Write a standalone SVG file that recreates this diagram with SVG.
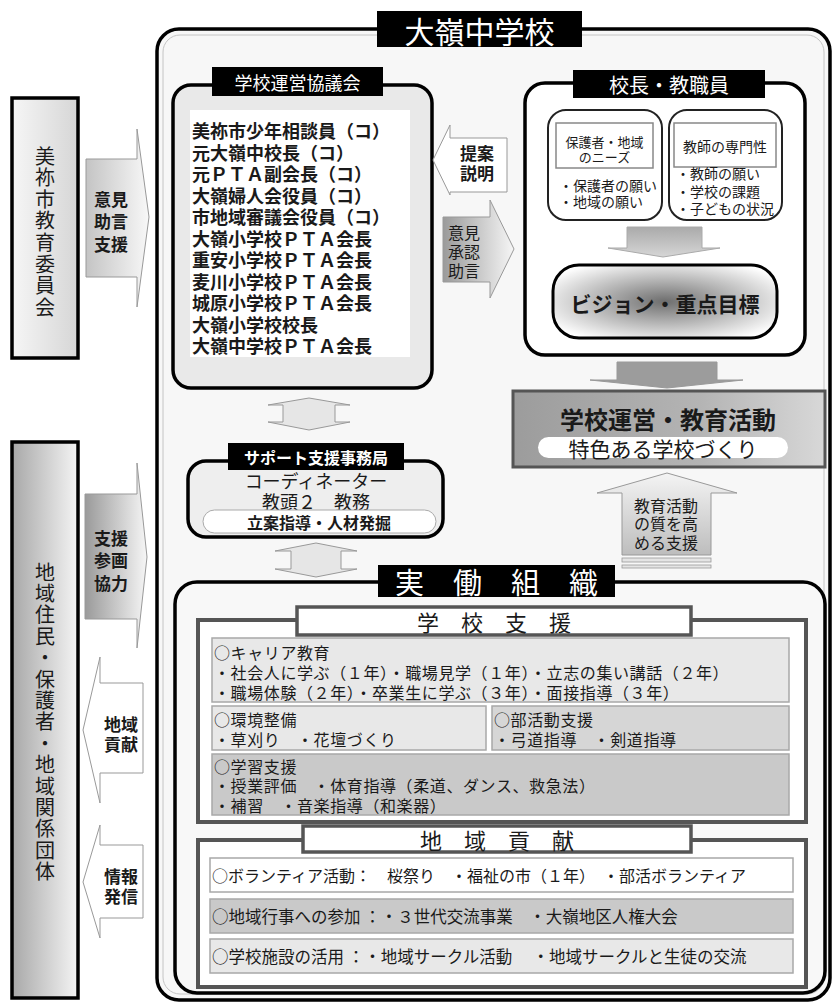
<svg xmlns="http://www.w3.org/2000/svg" width="835" height="1005" viewBox="0 0 835 1005">
<defs>
<style>
.t{font-family:"Noto Sans CJK JP","Noto Sans CJK SC",sans-serif;dominant-baseline:central;fill:#1a1a1a}
.v{font-family:"Noto Sans CJK JP","Noto Sans CJK SC",sans-serif;writing-mode:vertical-rl;fill:#1a1a1a}
.c{text-anchor:middle}
.w{fill:#fff}
.b{font-weight:bold}
.s{font-size:16px;letter-spacing:0.6px}
.frame{stroke:#000;stroke-width:3.5}
.sec{fill:#fff;stroke:#555;stroke-width:4}
.row{stroke:#a8a8a8;stroke-width:1.5}
.ol{fill:#fff;stroke:#999;stroke-width:1}
</style>
<linearGradient id="gBoard" x1="0" y1="0" x2="1" y2="0"><stop offset="0" stop-color="#f6f6f6"/><stop offset="1" stop-color="#d6d6d6"/></linearGradient>
<linearGradient id="gRes" x1="0" y1="0" x2="1" y2="0"><stop offset="0" stop-color="#a8a8a8"/><stop offset="1" stop-color="#f4f4f4"/></linearGradient>
<linearGradient id="gArrR" x1="0" y1="0" x2="1" y2="0"><stop offset="0" stop-color="#9a9a9a"/><stop offset="1" stop-color="#f6f6f6"/></linearGradient>
<linearGradient id="gArrR2" x1="0" y1="0" x2="1" y2="0"><stop offset="0" stop-color="#c4c4c4"/><stop offset="1" stop-color="#f8f8f8"/></linearGradient>
<linearGradient id="gMain" x1="0" y1="0" x2="1" y2="0"><stop offset="0" stop-color="#9c9c9c"/><stop offset="0.6" stop-color="#b4b4b4"/><stop offset="1" stop-color="#d8d8d8"/></linearGradient>
<linearGradient id="gDown" x1="0" y1="0" x2="0" y2="1"><stop offset="0" stop-color="#aaa"/><stop offset="1" stop-color="#d6d6d6"/></linearGradient>
<linearGradient id="gUp" x1="0" y1="0" x2="0" y2="1"><stop offset="0" stop-color="#f4f4f4"/><stop offset="1" stop-color="#bdbdbd"/></linearGradient>
<radialGradient id="gVis" cx="0.5" cy="0.5" r="0.6"><stop offset="0" stop-color="#6e6e6e"/><stop offset="0.55" stop-color="#bdbdbd"/><stop offset="1" stop-color="#fdfdfd"/></radialGradient>
</defs>
<rect x="0" y="0" width="835" height="1005" fill="#fff"/>

<g id="school">
<rect x="157" y="29" width="673" height="971" rx="22" fill="#f7f7f7" class="frame"/>
<rect x="163" y="35" width="661" height="959" rx="17" fill="none" stroke="#c4c4c4" stroke-width="1"/>
<rect x="377" y="11" width="205" height="36" fill="#000"/>
<text class="t c w" x="479.5" y="29.5" font-size="30">大嶺中学校</text>
</g>

<g id="board">
<rect x="12" y="98" width="66" height="260" fill="url(#gBoard)" class="frame"/>
<text class="v" x="45" y="146" font-size="20" letter-spacing="1.6">美祢市教育委員会</text>
</g>

<g id="residents">
<rect x="12" y="442" width="66" height="556" fill="url(#gRes)" class="frame"/>
<text class="v" x="45" y="562" font-size="20" letter-spacing="1.4">地域住民・保護者・地域関係団体</text>
</g>

<g id="council">
<rect x="173" y="85" width="259" height="303" rx="18" fill="#e9e9e9" class="frame"/>
<rect x="190" y="110" width="220" height="247" fill="#fff"/>
<rect x="212" y="67" width="171" height="29" fill="#000"/>
<text class="t c w" x="297.5" y="81.5" font-size="18">学校運営協議会</text>
<g class="t b" font-size="18">
<text x="192" y="130">美祢市少年相談員（コ）</text>
<text x="192" y="151.5">元大嶺中校長（コ）</text>
<text x="192" y="173">元ＰＴＡ副会長（コ）</text>
<text x="192" y="194.5">大嶺婦人会役員（コ）</text>
<text x="192" y="216">市地域審議会役員（コ）</text>
<text x="192" y="237.5">大嶺小学校ＰＴＡ会長</text>
<text x="192" y="259">重安小学校ＰＴＡ会長</text>
<text x="192" y="280.5">麦川小学校ＰＴＡ会長</text>
<text x="192" y="302">城原小学校ＰＴＡ会長</text>
<text x="192" y="323.5">大嶺小学校校長</text>
<text x="192" y="345">大嶺中学校ＰＴＡ会長</text>
</g>
</g>

<g id="staff">
<rect x="525" y="83" width="280" height="272" rx="20" fill="#fff" class="frame"/>
<rect x="573" y="70" width="192" height="28" fill="#000"/>
<text class="t c w" x="669" y="84" font-size="20">校長・教職員</text>
<rect x="548" y="110" width="114" height="110" rx="18" fill="#fff" stroke="#222" stroke-width="2"/>
<rect x="556" y="123" width="97" height="45" fill="#fff" stroke="#888" stroke-width="1.5"/>
<text class="t c" x="604.5" y="141" font-size="13">保護者・地域</text>
<text class="t c" x="604.5" y="156" font-size="13">のニーズ</text>
<text class="t" x="559" y="185" font-size="14">・保護者の願い</text>
<text class="t" x="559" y="201" font-size="14">・地域の願い</text>
<rect x="669" y="110" width="113" height="110" rx="18" fill="#fff" stroke="#222" stroke-width="2"/>
<rect x="674" y="123" width="102" height="44" fill="#fff" stroke="#888" stroke-width="1.5"/>
<text class="t c" x="725" y="146" font-size="14">教師の専門性</text>
<text class="t" x="676" y="173" font-size="14">・教師の願い</text>
<text class="t" x="676" y="191" font-size="14">・学校の課題</text>
<text class="t" x="676" y="208" font-size="14">・子どもの状況</text>
</g>

<g id="vision">
<rect x="553" y="265" width="224" height="73" rx="26" fill="url(#gVis)" stroke="#000" stroke-width="3"/>
<text class="t c b" x="665" y="303" font-size="21" fill="#222">ビジョン・重点目標</text>
</g>

<g id="management">
<rect x="513" y="391" width="312" height="76" fill="url(#gMain)" stroke="#555" stroke-width="3"/>
<text class="t c b" x="668" y="418" font-size="24">学校運営・教育活動</text>
<rect x="538" y="437" width="250" height="21" rx="10.5" fill="#fff"/>
<text class="t c" x="663" y="448" font-size="21">特色ある学校づくり</text>
</g>

<g id="support-office">
<rect x="188" y="461" width="255" height="76" rx="18" fill="#eeeeee" class="frame"/>
<rect x="228" y="443" width="176" height="27" fill="#000"/>
<text class="t c w b" x="316" y="456.5" font-size="16">サポート支援事務局</text>
<text class="t c" x="316" y="480" font-size="18">コーディネーター</text>
<text class="t c" x="316" y="501" font-size="18">教頭２　教務</text>
<rect x="203" y="510" width="233" height="23" rx="11.5" fill="#fff" stroke="#aaa" stroke-width="1"/>
<text class="t c b" x="319" y="521.5" font-size="16">立案指導・人材発掘</text>
</g>

<g id="practical">
<rect x="175" y="582" width="650" height="411" rx="22" fill="#f8f8f8" class="frame"/>
<rect x="378" y="565" width="237" height="32" fill="#000"/>
<text class="t c w" x="496.5" y="581" font-size="29">実　働　組　織</text>
</g>

<g id="school-support">
<rect x="198" y="620" width="608" height="202" class="sec"/>
<rect x="297" y="607" width="394" height="28" fill="#fff" stroke="#555" stroke-width="3.5"/>
<text class="t c" x="494" y="621" font-size="22">学　校　支　援</text>
<rect x="212" y="638" width="577" height="64" fill="#e8e8e8" class="row"/>
<text class="t s" x="214" y="651.5">○キャリア教育</text>
<text class="t s" x="214" y="671.5">・社会人に学ぶ（１年）・職場見学（１年）・立志の集い講話（２年）</text>
<text class="t s" x="214" y="691.5">・職場体験（２年）・卒業生に学ぶ（３年）・面接指導（３年）</text>
<rect x="212" y="706" width="274" height="44" fill="#e8e8e8" class="row"/>
<text class="t s" x="214" y="718.5">○環境整備</text>
<text class="t s" x="214" y="738.5">・草刈り　・花壇づくり</text>
<rect x="492" y="706" width="297" height="44" fill="#d6d6d6" class="row"/>
<text class="t s" x="494" y="718.5">○部活動支援</text>
<text class="t s" x="494" y="738.5">・弓道指導　・剣道指導</text>
<rect x="212" y="754" width="577" height="61" fill="#c9c9c9" class="row"/>
<text class="t s" x="214" y="765.5">○学習支援</text>
<text class="t s" x="214" y="785">・授業評価　・体育指導（柔道、ダンス、救急法）</text>
<text class="t s" x="214" y="804.5">・補習　・音楽指導（和楽器）</text>
</g>

<g id="community">
<rect x="198" y="840" width="608" height="147" class="sec"/>
<rect x="303" y="826" width="388" height="26" fill="#fff" stroke="#555" stroke-width="3.5"/>
<text class="t c" x="497" y="839" font-size="22">地　域　貢　献</text>
<rect x="210" y="858" width="583" height="34" fill="#fff" class="row"/>
<text class="t" x="212" y="875" font-size="16">○ボランティア活動：　桜祭り　・福祉の市（１年）　・部活ボランティア</text>
<rect x="210" y="899" width="583" height="34" fill="#c9c9c9" class="row"/>
<text class="t" x="212" y="916" font-size="16.5">○地域行事への参加 ：・３世代交流事業　・大嶺地区人権大会</text>
<rect x="210" y="939" width="583" height="34" fill="#e8e8e8" class="row"/>
<text class="t" x="212" y="956" font-size="16.5">○学校施設の活用 ：・地域サークル活動　 ・地域サークルと生徒の交流</text>
</g>

<g id="connectors">
<polygon points="86,159 137,159 137,129 149,217 137,307 137,277 86,277" fill="url(#gArrR2)" stroke="#999" stroke-width="1"/>
<text class="t c b" x="111" y="198" font-size="17">意見</text>
<text class="t c b" x="111" y="220" font-size="17">助言</text>
<text class="t c b" x="111" y="243" font-size="17">支援</text>

<polygon points="85,494 137,494 137,463 147,557 137,648 137,619 85,619" fill="url(#gArrR)" stroke="#999" stroke-width="1"/>
<text class="t c b" x="111" y="537" font-size="17">支援</text>
<text class="t c b" x="111" y="559" font-size="17">参画</text>
<text class="t c b" x="111" y="582" font-size="17">協力</text>

<polygon points="143,683 100,683 100,657 83,730 100,803 100,773 143,773" class="ol"/>
<text class="t c b" x="121" y="723" font-size="17">地域</text>
<text class="t c b" x="121" y="743" font-size="17">貢献</text>

<polygon points="143,845 100,845 100,825 83,882 100,938 100,918 143,918" class="ol"/>
<text class="t c b" x="121" y="875" font-size="17">情報</text>
<text class="t c b" x="121" y="895" font-size="17">発信</text>

<polygon points="507,138 450,138 450,125 433,160 450,195 450,192 507,192" class="ol"/>
<text class="t c b" x="477" y="152" font-size="17">提案</text>
<text class="t c b" x="477" y="172" font-size="17">説明</text>

<polygon points="443,217 490,217 490,200 514,249 490,298 490,282 443,282" fill="url(#gArrR)" stroke="#999" stroke-width="1"/>
<text class="t c" x="464" y="232" font-size="16">意見</text>
<text class="t c" x="464" y="251" font-size="16">承認</text>
<text class="t c" x="464" y="270" font-size="16">助言</text>

<polygon points="627,227 702,227 702,248 720,248 663,257 608,248 627,248" fill="url(#gDown)" stroke="#aaa" stroke-width="1"/>
<polygon points="617,362 717,362 717,380 743,380 667,388 590,380 617,380" fill="#9c9c9c" stroke="#999" stroke-width="1"/>

<polygon points="667,473 737,493 711,493 711,555 622,555 622,493 597,493" fill="url(#gUp)" stroke="#999" stroke-width="1"/>
<rect x="622" y="558" width="89" height="4" fill="#e4e4e4" stroke="#999" stroke-width="0.8"/>
<rect x="622" y="565" width="89" height="3" fill="#e4e4e4" stroke="#999" stroke-width="0.8"/>
<text class="t c" x="666" y="505" font-size="16">教育活動</text>
<text class="t c" x="666" y="523" font-size="16">の質を高</text>
<text class="t c" x="666" y="542" font-size="16">める支援</text>

<polygon points="309,398 350,405 335,405 335,422 350,422 309,430 268,422 283,422 283,405 268,405" fill="#e6e6e6" stroke="#999" stroke-width="1"/>
<polygon points="316,543 357,551 341,551 341,569 357,569 316,577 275,569 291,569 291,551 275,551" fill="#e6e6e6" stroke="#999" stroke-width="1"/>
</g>
</svg>
